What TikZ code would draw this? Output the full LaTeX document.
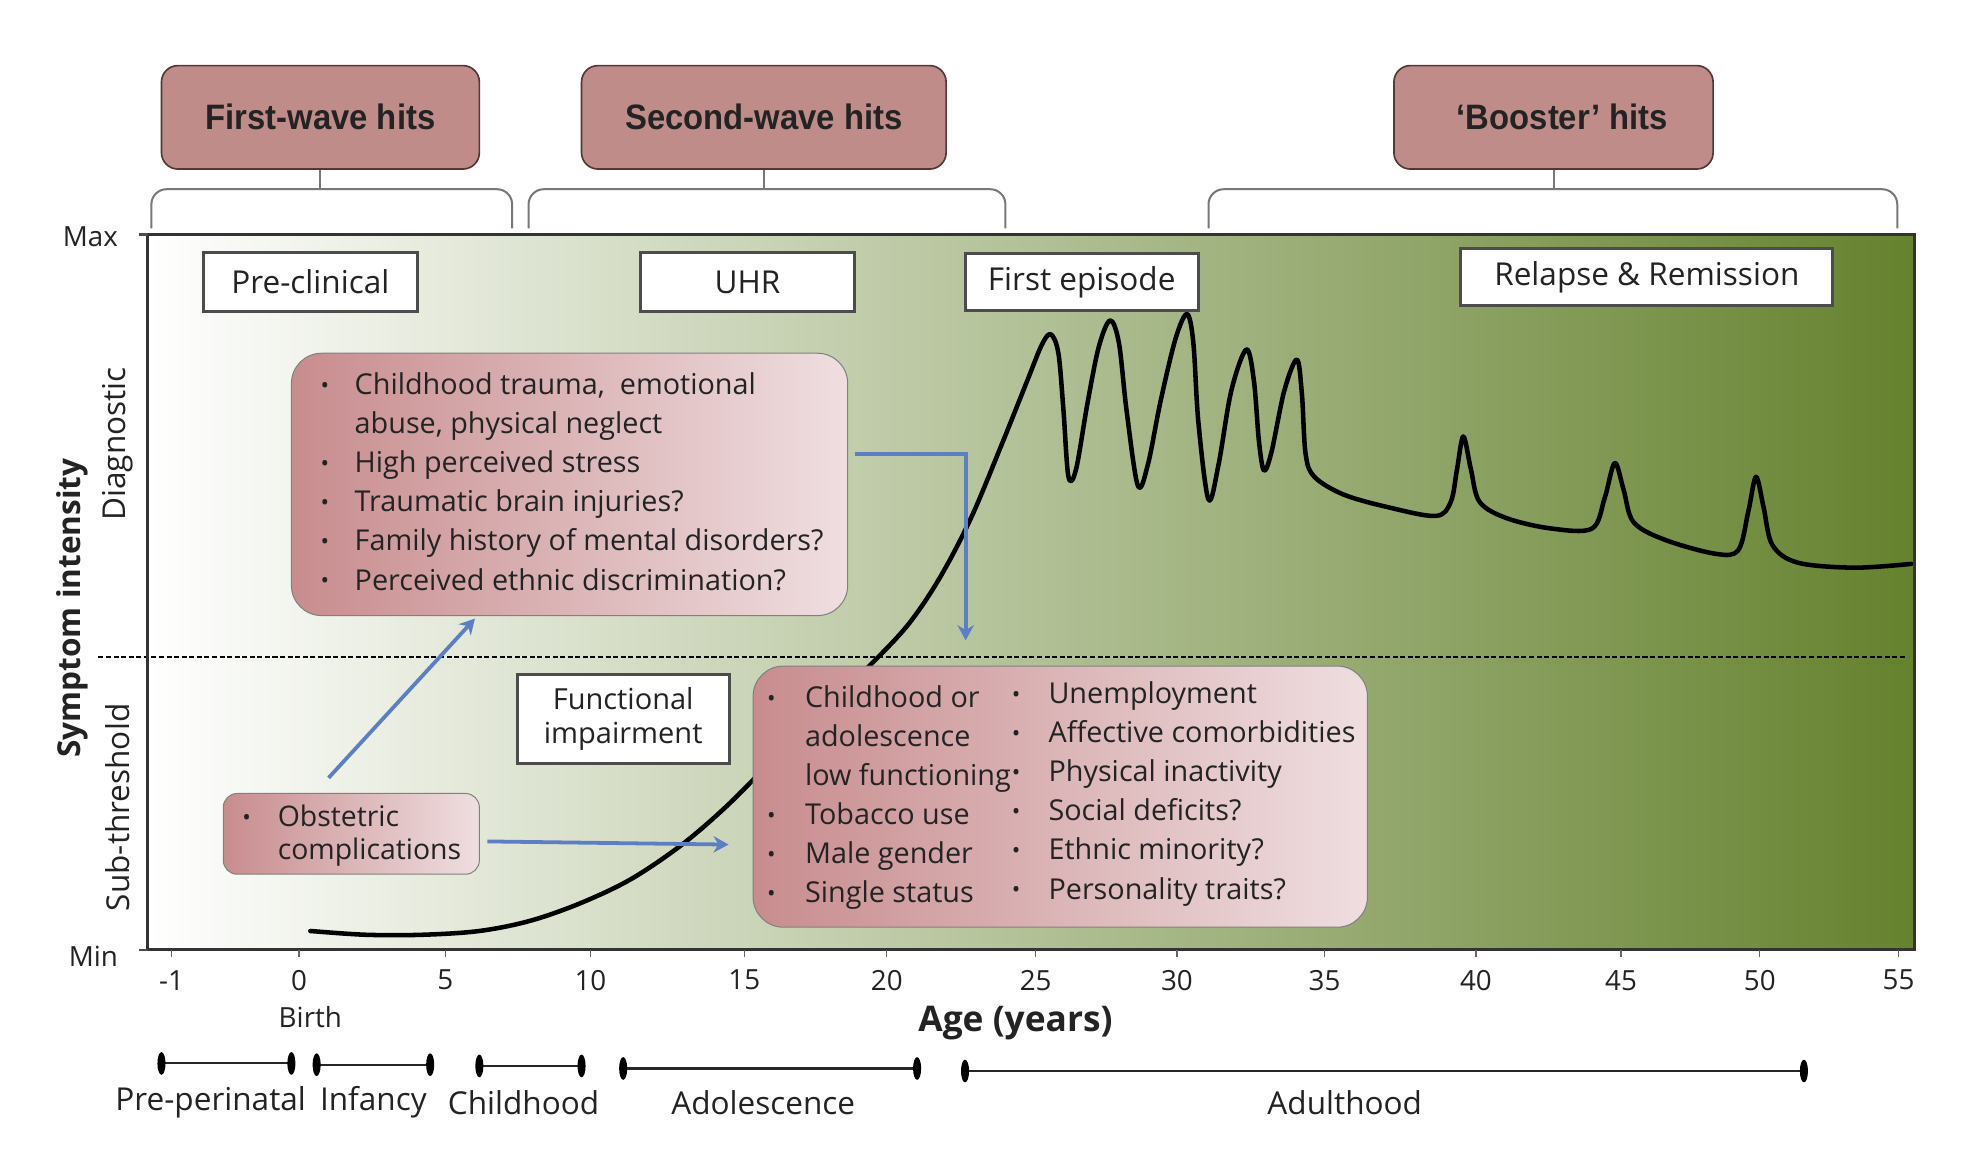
\documentclass[tikz,border=0pt]{standalone}
\usepackage{fontspec,graphicx}
\setmainfont{Open Sans}
\newfontfamily\hitsfont[FakeStretch=0.93]{Liberation Sans}
\usetikzlibrary{positioning,arrows.meta}

\definecolor{hitfill}{RGB}{192,140,137}
\definecolor{hitdraw}{RGB}{85,55,55}
\definecolor{rosedark}{RGB}{200,140,142}
\definecolor{roselight}{RGB}{239,222,224}
\definecolor{sage}{RGB}{182,196,145}
\definecolor{olive}{RGB}{101,130,46}
\definecolor{arrowblue}{RGB}{92,126,196}
\definecolor{bracketgray}{RGB}{120,120,120}
\definecolor{inktext}{RGB}{35,35,35}

\newcommand\bul{\raisebox{1pt}{\fontsize{18}{18}\selectfont •}}

\tikzset{
  hitbox/.style={draw=hitdraw, fill=hitfill, rounded corners=13pt, line width=1.3pt,
    minimum height=82pt, font=\hitsfont\bfseries\fontsize{28}{30}\selectfont, text=inktext},
  phasebox/.style={draw=black!70, fill=white, line width=2.4pt, inner sep=0pt,
    font=\fontsize{25}{28}\selectfont, text=inktext},
  listbox/.style={draw=black!50, rounded corners=24pt, left color=rosedark,
    right color=roselight, line width=0.8pt},
  listtext/.style={inner sep=0pt, text=inktext, font=\fontsize{22.8}{31}\selectfont},
  bracket/.style={draw=bracketgray, line width=1.6pt, rounded corners=12pt},
  bluearrow/.style={draw=arrowblue, line width=3pt, -{Stealth[length=12pt,width=13pt]}},
  symptom/.style={line width=3.6pt, line cap=round, line join=round},
  axislabel/.style={text=inktext, font=\fontsize{22}{24}\selectfont},
  stagebar/.style={line width=1.6pt, black!85},
}

\begin{document}
\begin{tikzpicture}[x=1pt,y=-1pt]
\useasboundingbox (0,0) rectangle (1568,916);

% background of the plot
\shade[left color=white, middle color=sage, right color=olive] (117,186) rectangle (1518,753);

% hits on top
\node[hitbox, minimum width=252pt] (firstwave) at (254,93) {First-wave hits};
\node[hitbox, minimum width=289pt] (secondwave) at (605.5,93) {Second-wave hits};
\node[hitbox, minimum width=253pt] (booster) at (1231.5,93) {\hspace{14pt}‘Booster’ hits};
\draw[bracket] (120,181) -- (120,150) -- (406,150) -- (406,181);
\draw[bracket] (419,181) -- (419,150) -- (797,150) -- (797,181);
\draw[bracket] (958,181) -- (958,150) -- (1504,150) -- (1504,181);
\draw[bracketgray, line width=1.6pt] (firstwave.south) -- ++(0,16);
\draw[bracketgray, line width=1.6pt] (secondwave.south) -- ++(0,16);
\draw[bracketgray, line width=1.6pt] (booster.south) -- ++(0,16);

% threshold
\draw[line width=1.6pt, dash pattern=on 4pt off 2pt] (78,521) -- (1510,521);

% phases
\node[phasebox, minimum width=170pt, minimum height=47pt] (preclin) at (246,223.5) {Pre-clinical};
\node[phasebox, minimum width=169pt, minimum height=47pt] (uhr) at (592.5,223.5) {UHR};
\node[phasebox, minimum width=185pt, minimum height=45pt] (firstep) at (857.5,223.5) {First episode};
\node[phasebox, minimum width=295pt, minimum height=45pt] (relapse) at (1305.5,219.5) {Relapse \& Remission};
\node[phasebox, minimum width=168pt, minimum height=70pt, align=center,
  font=\fontsize{23}{27}\selectfont] (funcimp) at (494,570) {Functional\\impairment};

% symptom course
\draw[symptom] plot[smooth, tension=0.55] coordinates {
  (246,738) (290,741) (335,741) (380,738) (420,730) (460,716) (500,697) (540,670)
  (575,640) (610,605) (650,565) (690,527) (720,495) (745,458) (770,410) (795,350)
  (815,300) (826,273) (833,265) (839,280) (843,325) (847,378) (853,372) (862,320)
  (871,275) (880,254) (887,272) (893,325) (902,385) (910,368) (920,318) (932,268)
  (941,249) (946,272) (950,335) (958,396) (966,368) (976,310) (988,277) (994,302)
  (998,350) (1002,373) (1008,358) (1018,310) (1028,285) (1032,312) (1035,360)
  (1042,378) (1065,392) (1100,402) (1138,409) (1150,398) (1155,372) (1160,346)
  (1166,372) (1173,398) (1195,411) (1230,419) (1262,419) (1272,395) (1280,367)
  (1287,388) (1295,414) (1320,428) (1360,439) (1378,436) (1386,405) (1392,378)
  (1398,402) (1405,432) (1425,446) (1470,450) (1515,447)};

% risk factor boxes
\node[listbox, minimum width=441pt, minimum height=208pt] (early) at (451.5,384) {};
\node[listtext, anchor=west] (earlytext) at (254,384) {%
  \begin{tabular}{@{}l@{}l@{}}
  \makebox[27pt][l]{\bul} & Childhood trauma,\ \ emotional\\
   & abuse, physical neglect\\
  \bul & High perceived stress\\
  \bul & Traumatic brain injuries?\\
  \bul & Family history of mental disorders?\\
  \bul & Perceived ethnic discrimination?
  \end{tabular}};

\node[listbox, minimum width=487pt, minimum height=207pt] (later) at (840.5,631.5) {};
\node[listtext, anchor=west] (latertextl) at (608,632) {%
  \begin{tabular}{@{}l@{}l@{}}
  \makebox[30pt][l]{\bul} & Childhood or\\
   & adolescence\\
   & low functioning\\
  \bul & Tobacco use\\
  \bul & Male gender\\
  \bul & Single status
  \end{tabular}};
\node[listtext, anchor=west] (latertextr) at (802,629) {%
  \begin{tabular}{@{}l@{}l@{}}
  \makebox[29pt][l]{\bul} & Unemployment\\
  \bul & Affective comorbidities\\
  \bul & Physical inactivity\\
  \bul & Social deficits?\\
  \bul & Ethnic minority?\\
  \bul & Personality traits?
  \end{tabular}};

\node[listbox, rounded corners=11pt, minimum width=203pt, minimum height=64pt] (obst) at (278.5,661) {};
\node[listtext, anchor=west, font=\fontsize{22.5}{26}\selectfont] (obsttext) at (192,663) {%
  \begin{tabular}{@{}l@{}l@{}}
  \makebox[28pt][l]{\bul} & Obstetric\\
   & complications
  \end{tabular}};

% arrows
\draw[bluearrow] ([xshift=-18pt,yshift=12pt]obst.north) -- ([xshift=-75pt,yshift=-2pt]early.south);
\draw[bluearrow] ([xshift=6pt,yshift=-6pt]obst.east) -- ([xshift=-19pt,yshift=-38pt]later.west);
\draw[bluearrow] ([xshift=5pt,yshift=24pt]early.east) -| ([xshift=-75pt,yshift=20pt]later.north);

% frame and axes
\draw[line width=2.4pt, black!80] (117,186) rectangle (1518,753);
\draw[line width=2pt, black!70] (110,186) -- (117,186) (110,753) -- (117,753);
\node[axislabel, anchor=east] (maxlab) at (97,188) {Max};
\node[axislabel, anchor=east] (minlab) at (97,758) {Min};
\node[axislabel, rotate=90, font=\fontsize{25}{28}\selectfont] (diag) at (93,352) {Diagnostic};
\node[axislabel, rotate=90, font=\fontsize{25}{28}\selectfont] (subthr) at (93,640) {Sub-threshold};
\node[axislabel, rotate=90, font=\bfseries\fontsize{25}{28}\selectfont] (symint) at (57,482) {Symptom intensity};

\foreach \a/\x in {-1/136,0/237,5/353,10/468,15/590,20/703,25/821,30/933,35/1050,40/1170,45/1285,50/1395,55/1505}{
  \draw[line width=1pt, black!60] (\x,753) -- (\x,759);
  \node[axislabel] (tick\a) at (\x,777) {\a};
}
\node[axislabel] (birth) at (246,806) {Birth};
\node[axislabel, font=\bfseries\fontsize{28}{30}\selectfont] (agelab) at (805,811) {Age (years)};

% life stages
\foreach \xa/\xb/\yb/\xl/\name in {128/231/843/167/Pre-perinatal, 251/341/844/296/Infancy,
  380/461/845/415/Childhood, 494/727/847/605/Adolescence, 765/1430/849/1066/Adulthood}{
  \draw[stagebar] (\xa,\yb) -- (\xb,\yb);
  \fill (\xa,\yb) ellipse (3.2pt and 9pt);
  \fill (\xb,\yb) ellipse (3.2pt and 9pt);
  \node[axislabel, font=\fontsize{25}{28}\selectfont] (stage\xl) at (\xl,874) {\name};
}
\end{tikzpicture}
\end{document}
